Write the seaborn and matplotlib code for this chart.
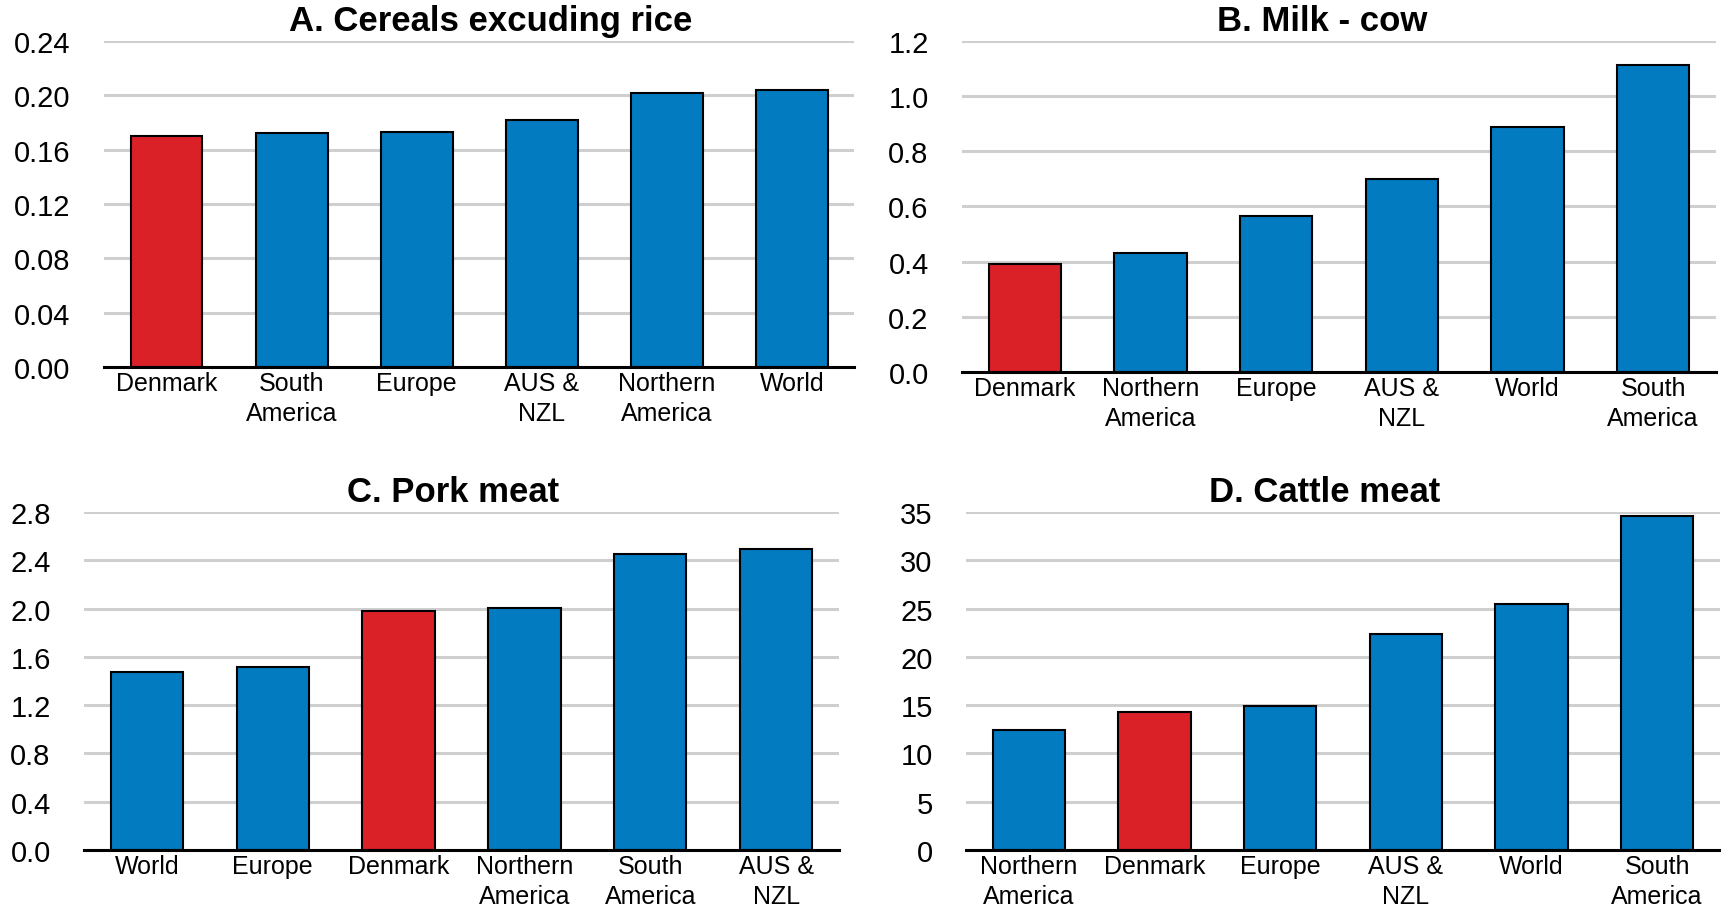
import numpy as np
import pandas as pd
import matplotlib
matplotlib.use("Agg")
import matplotlib.pyplot as plt
import seaborn as sns

# panel data
cereal_regions = ["Denmark", "South\nAmerica", "Europe", "AUS &\nNZL", "Northern\nAmerica", "World"]
cereal_values = [0.170, 0.1725, 0.173, 0.1815, 0.2015, 0.204]

milk_regions = ["Denmark", "Northern\nAmerica", "Europe", "AUS &\nNZL", "World", "South\nAmerica"]
milk_values = [0.393, 0.430, 0.566, 0.700, 0.888, 1.113]

pork_regions = ["World", "Europe", "Denmark", "Northern\nAmerica", "South\nAmerica", "AUS &\nNZL"]
pork_values = [1.476, 1.514, 1.981, 2.005, 2.452, 2.497]

cattle_regions = ["Northern\nAmerica", "Denmark", "Europe", "AUS &\nNZL", "World", "South\nAmerica"]
cattle_values = [12.45, 14.24, 14.86, 22.41, 25.45, 34.59]

titles = ["A. Cereals excuding rice", "B. Milk - cow", "C. Pork meat", "D. Cattle meat"]
yticks = [np.arange(0, 0.241, 0.04), np.arange(0, 1.21, 0.2),
          np.arange(0, 2.81, 0.4), np.arange(0, 36, 5)]
yfmt = ["{:.2f}", "{:.1f}", "{:.1f}", "{:.0f}"]

blue = "#037BC1"
red = "#DA2128"

sns.set_theme(style="white")
plt.rcParams['font.family'] = ['Liberation Sans', 'DejaVu Sans']

fig = plt.figure(figsize=(17.21, 9.12), dpi=100)
# [left, bottom, width, height] of each panel
positions = [
    [0.0604, 0.5965, 0.4361, 0.3575],
    [0.5590, 0.5910, 0.4381, 0.3630],
    [0.0488, 0.0669, 0.4387, 0.3706],
    [0.5613, 0.0669, 0.4381, 0.3706],
]
title_x = [0.515, 0.4775, 0.489, 0.476]
panels = [(cereal_regions, cereal_values), (milk_regions, milk_values),
          (pork_regions, pork_values), (cattle_regions, cattle_values)]

for i, (regions, values) in enumerate(panels):
    ax = fig.add_axes(positions[i])
    df = pd.DataFrame({"region": regions, "value": values})
    pal = {r: (red if r == "Denmark" else blue) for r in regions}
    sns.barplot(data=df, x="region", y="value", hue="region", palette=pal,
                order=regions, legend=False, width=0.575, saturation=1,
                edgecolor="black", linewidth=1.5, ax=ax, zorder=3)
    ax.set_ylim(0, yticks[i][-1])
    ax.set_xlim(-0.5, len(regions) - 0.5)
    ax.set_yticks(yticks[i])
    ax.set_yticklabels([yfmt[i].format(v) for v in yticks[i]], fontsize=21)
    for lab in ax.get_xticklabels():
        lab.set_fontsize(18)
        lab.set_linespacing(1.3)
    ax.yaxis.grid(True, color="#CFCFCF", linewidth=2.2, zorder=0)
    ax.set_axisbelow(True)
    for s in ["top", "right", "left"]:
        ax.spines[s].set_visible(False)
    ax.spines["bottom"].set_color("black")
    ax.spines["bottom"].set_linewidth(2.2)
    ax.spines["bottom"].set_zorder(4)
    ax.tick_params(axis="both", length=0, colors="black")
    ax.tick_params(axis="x", pad=3)
    ax.tick_params(axis="y", pad=24)
    ax.set_xlabel("")
    ax.set_ylabel("")
    ax.set_title(titles[i], fontsize=25, fontweight="bold", pad=8,
                 x=title_x[i], color="black")

fig.savefig("out.png", dpi=100)
